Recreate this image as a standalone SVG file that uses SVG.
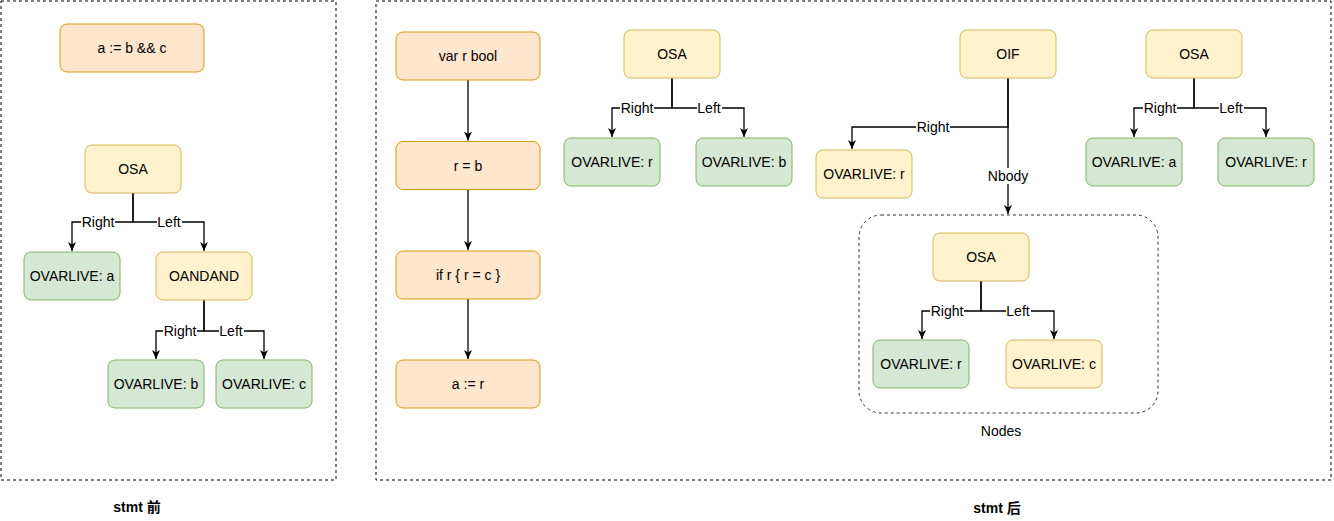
<svg xmlns="http://www.w3.org/2000/svg" width="1334" height="521" viewBox="0 0 1334 521">
<style>
text{font-family:"Liberation Sans","Noto Sans CJK SC",sans-serif;font-size:14px;fill:#000;text-anchor:middle}
.title{font-weight:bold}
.or{fill:#ffe6cc;stroke:#d79b00;stroke-width:1}
.ye{fill:#fff2cc;stroke:#d6b656;stroke-width:1}
.gr{fill:#d5e8d4;stroke:#82b366;stroke-width:1}
.frame{fill:none;stroke:#000;stroke-width:1;stroke-dasharray:3 3}
.grp{fill:none;stroke:#333;stroke-width:1;stroke-dasharray:3 3}
.edge{fill:none;stroke:#000;stroke-width:1.3;marker-end:url(#arr)}
.lbg{fill:#fff}
</style>
<defs>
<marker id="arr" markerUnits="userSpaceOnUse" markerWidth="10" markerHeight="10" viewBox="0 0 10 10" refX="9" refY="5" orient="auto">
<path d="M0,1 L9,5 L0,9 L2.5,5 z" fill="#000"/>
</marker>
</defs>

<rect class="frame" x="1" y="1" width="335" height="479"/>
<rect class="frame" x="376" y="1" width="955" height="479"/>
<g id="nodes-group">
<rect class="grp" x="859" y="215" width="299" height="198" rx="22"/>
<text x="1001" y="436">Nodes</text>
</g>

<g id="connectors">
<path class="edge" d="M133,193 V222 H72 V251"/>
<path class="edge" d="M133,193 V222 H204 V251"/>
<path class="edge" d="M204,300 V331 H156 V359"/>
<path class="edge" d="M204,300 V331 H264 V359"/>
<path class="edge" d="M468,80 V140.5"/>
<path class="edge" d="M468,189.5 V250"/>
<path class="edge" d="M468,299 V359"/>
<path class="edge" d="M672,78 V108 H612 V137"/>
<path class="edge" d="M672,78 V108 H744 V137"/>
<path class="edge" d="M1008,78 V127 H852 V149"/>
<path class="edge" d="M1008,78 V214"/>
<path class="edge" d="M981,281 V311 H922 V339"/>
<path class="edge" d="M981,281 V311 H1054 V339"/>
<path class="edge" d="M1194,78 V108 H1134 V137"/>
<path class="edge" d="M1194,78 V108 H1266 V137"/>
<g id="edge-labels">
<rect class="lbg" x="81" y="214" width="34" height="16"/><text x="98" y="227">Right</text>
<rect class="lbg" x="157" y="214" width="25" height="16"/><text x="169" y="227">Left</text>
<rect class="lbg" x="163" y="323" width="34" height="16"/><text x="180" y="336">Right</text>
<rect class="lbg" x="219" y="323" width="25" height="16"/><text x="231" y="336">Left</text>
<rect class="lbg" x="620" y="100" width="34" height="16"/><text x="637" y="113">Right</text>
<rect class="lbg" x="697" y="100" width="25" height="16"/><text x="709" y="113">Left</text>
<rect class="lbg" x="916" y="119" width="34" height="16"/><text x="933" y="132">Right</text>
<rect class="lbg" x="987" y="168" width="42" height="16"/><text x="1008" y="181">Nbody</text>
<rect class="lbg" x="930" y="303" width="34" height="16"/><text x="947" y="316">Right</text>
<rect class="lbg" x="1006" y="303" width="25" height="16"/><text x="1018" y="316">Left</text>
<rect class="lbg" x="1143" y="100" width="34" height="16"/><text x="1160" y="113">Right</text>
<rect class="lbg" x="1219" y="100" width="25" height="16"/><text x="1231" y="113">Left</text>
</g>
</g>

<g id="n1"><rect class="or" x="60" y="24" width="144" height="48" rx="7"/><text x="132" y="53">a := b &amp;&amp; c</text></g>
<g id="n2"><rect class="ye" x="85" y="145" width="96" height="48" rx="7"/><text x="133" y="174">OSA</text></g>
<g id="n3"><rect class="gr" x="24" y="252" width="96" height="48" rx="7"/><text x="72" y="281">OVARLIVE: a</text></g>
<g id="n4"><rect class="ye" x="156" y="252" width="96" height="48" rx="7"/><text x="204" y="281">OANDAND</text></g>
<g id="n5"><rect class="gr" x="108" y="360" width="96" height="48" rx="7"/><text x="156" y="389">OVARLIVE: b</text></g>
<g id="n6"><rect class="gr" x="216" y="360" width="96" height="48" rx="7"/><text x="264" y="389">OVARLIVE: c</text></g>

<g id="m1"><rect class="or" x="396" y="32" width="144" height="48" rx="7"/><text x="468" y="61">var r bool</text></g>
<g id="m2"><rect class="or" x="396" y="141.5" width="144" height="48" rx="7"/><text x="468" y="170.5">r = b</text></g>
<g id="m3"><rect class="or" x="396" y="251" width="144" height="48" rx="7"/><text x="468" y="280">if r { r = c }</text></g>
<g id="m4"><rect class="or" x="396" y="360" width="144" height="48" rx="7"/><text x="468" y="389">a := r</text></g>

<g id="m5"><rect class="ye" x="624" y="30" width="96" height="48" rx="7"/><text x="672" y="59">OSA</text></g>
<g id="m6"><rect class="gr" x="564" y="138" width="96" height="48" rx="7"/><text x="612" y="167">OVARLIVE: r</text></g>
<g id="m7"><rect class="gr" x="696" y="138" width="96" height="48" rx="7"/><text x="744" y="167">OVARLIVE: b</text></g>

<g id="m8"><rect class="ye" x="960" y="30" width="96" height="48" rx="7"/><text x="1008" y="59">OIF</text></g>
<g id="m9"><rect class="ye" x="816" y="150" width="96" height="48" rx="7"/><text x="864" y="179">OVARLIVE: r</text></g>

<g id="m10"><rect class="ye" x="933" y="233" width="96" height="48" rx="7"/><text x="981" y="262">OSA</text></g>
<g id="m11"><rect class="gr" x="873" y="340" width="96" height="48" rx="7"/><text x="921" y="369">OVARLIVE: r</text></g>
<g id="m12"><rect class="ye" x="1006" y="340" width="96" height="48" rx="7"/><text x="1054" y="369">OVARLIVE: c</text></g>

<g id="m13"><rect class="ye" x="1146" y="30" width="96" height="48" rx="7"/><text x="1194" y="59">OSA</text></g>
<g id="m14"><rect class="gr" x="1086" y="138" width="96" height="48" rx="7"/><text x="1134" y="167">OVARLIVE: a</text></g>
<g id="m15"><rect class="gr" x="1218" y="138" width="96" height="48" rx="7"/><text x="1266" y="167">OVARLIVE: r</text></g>

<text class="title" x="137" y="512">stmt 前</text>
<text class="title" x="997" y="513">stmt 后</text>
</svg>
